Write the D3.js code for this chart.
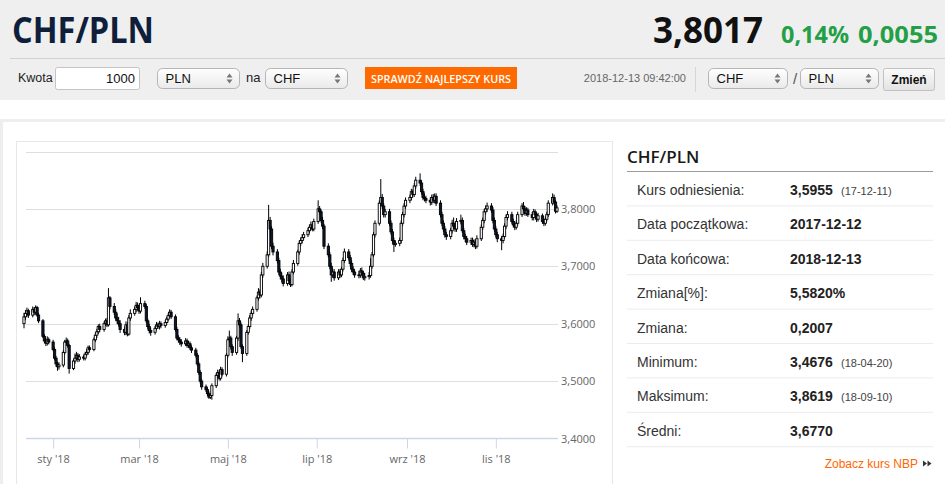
<!DOCTYPE html>
<html>
<head>
<meta charset="utf-8">
<script src="https://cdn.jsdelivr.net/npm/d3@7"></script>
<style>
  body { margin: 0; background: #fff; }
  svg text { font-family: "Liberation Sans", Arial, sans-serif; }
</style>
</head>
<body>
<div id="page"></div>
<script>
// daily OHLC, CHF/PLN, 2017-12-12 .. 2018-12-13 (one row per week)
var opens = [
  3.6000, 3.6120, 3.6180, 3.6225,
  3.6150, 3.6250, 3.6200, 3.6280, 3.6150,
  3.6050, 3.5780, 3.5700, 3.5660, 3.5720,
  3.5680, 3.5550, 3.5400, 3.5300, 3.5250,
  3.5280, 3.5500, 3.5680, 3.5700, 3.5620,
  3.5220, 3.5350, 3.5400, 3.5450, 3.5380,
  3.5420, 3.5400, 3.5470, 3.5500, 3.5580,
  3.5550, 3.5720, 3.5800, 3.5860, 3.5950,
  3.5900, 3.6000, 3.6050, 3.5980, 3.6450,
  3.6300, 3.6200, 3.6100, 3.6050, 3.6000,
  3.5900, 3.5850, 3.5980, 3.5820, 3.6100,
  3.6180, 3.6250, 3.6320, 3.6280, 3.6220,
  3.6350, 3.6300, 3.6050, 3.5950, 3.5880,
  3.5850, 3.5920, 3.5980, 3.5950, 3.6000,
  3.5970, 3.6020, 3.6080, 3.6140, 3.6200,
  3.6120, 3.5900, 3.5750, 3.5720, 3.5680,
  3.5650, 3.5700, 3.5620, 3.5650, 3.5580,
  3.5540, 3.5450, 3.5300, 3.5150, 3.5000,
  3.4900, 3.4850, 3.4780, 3.4720, 3.4750,
  3.4920, 3.5100, 3.5150, 3.5050, 3.5200,
  3.5120, 3.5450, 3.5720, 3.5750, 3.5600,
  3.5500, 3.5750, 3.6050, 3.5980, 3.5600,
  3.5480, 3.5850, 3.5950, 3.6100, 3.6180,
  3.6250, 3.6450, 3.6550, 3.6500, 3.6850,
  3.7000, 3.7200, 3.7800, 3.7650, 3.7350,
  3.7250, 3.7100, 3.6900, 3.6830, 3.6780,
  3.6700, 3.6850, 3.6750, 3.6680, 3.6900,
  3.7050, 3.7250, 3.7400, 3.7450, 3.7500,
  3.7550, 3.7620, 3.7680, 3.7720, 3.7650,
  3.7780, 3.8000, 3.7950, 3.7800, 3.7700,
  3.7350, 3.7200, 3.7000, 3.6850, 3.6900,
  3.6800, 3.6900, 3.6850, 3.6950, 3.7100,
  3.7250, 3.7150, 3.7050, 3.6950, 3.6900,
  3.6850, 3.6850, 3.6920, 3.6880, 3.6800,
  3.6820, 3.6840, 3.7000, 3.7200, 3.7550,
  3.7750, 3.8100, 3.8200, 3.8050, 3.7900,
  3.7950, 3.7750, 3.7600, 3.7450, 3.7380,
  3.7400, 3.7450, 3.7750, 3.7900, 3.8050,
  3.8150, 3.8200, 3.8300, 3.8250, 3.8400,
  3.8500, 3.8450, 3.8300, 3.8200, 3.8180,
  3.8150, 3.8120, 3.8200, 3.8150, 3.8220,
  3.8100, 3.7900, 3.7750, 3.7650, 3.7550,
  3.7520, 3.7620, 3.7750, 3.7700, 3.7650,
  3.7780, 3.7800, 3.7620, 3.7520, 3.7480,
  3.7420, 3.7450, 3.7380, 3.7420, 3.7350,
  3.7480, 3.7680, 3.7800, 3.7950, 3.8000,
  3.8050, 3.7980, 3.7800, 3.7650, 3.7550,
  3.7480, 3.7450, 3.7520, 3.7700, 3.7850,
  3.7900, 3.7780, 3.7720, 3.7680, 3.7750,
  3.7900, 3.8050, 3.8000, 3.7920, 3.7980,
  3.7900, 3.7850, 3.7950, 3.7900, 3.7820,
  3.7880, 3.7780, 3.7750, 3.7820, 3.7900,
  3.8100, 3.8200, 3.8120, 3.7960
];
var highs = [
  3.6190, 3.6240, 3.6280, 3.6260,
  3.6300, 3.6290, 3.6320, 3.6310, 3.6190,
  3.6080, 3.5820, 3.5750, 3.5780, 3.5760,
  3.5720, 3.5590, 3.5440, 3.5340, 3.5330,
  3.5540, 3.5720, 3.5760, 3.5740, 3.5650,
  3.5390, 3.5480, 3.5510, 3.5490, 3.5470,
  3.5460, 3.5510, 3.5560, 3.5620, 3.5620,
  3.5760, 3.5850, 3.5910, 3.5990, 3.6000,
  3.6040, 3.6090, 3.6100, 3.6620, 3.6480,
  3.6360, 3.6250, 3.6180, 3.6120, 3.6060,
  3.5950, 3.6040, 3.6030, 3.6150, 3.6250,
  3.6300, 3.6380, 3.6370, 3.6330, 3.6460,
  3.6400, 3.6340, 3.6090, 3.6000, 3.5930,
  3.5960, 3.6030, 3.6020, 3.6050, 3.6040,
  3.6060, 3.6120, 3.6180, 3.6250, 3.6240,
  3.6160, 3.5940, 3.5800, 3.5770, 3.5730,
  3.5750, 3.5740, 3.5700, 3.5690, 3.5620,
  3.5580, 3.5490, 3.5340, 3.5190, 3.5040,
  3.4940, 3.4890, 3.4820, 3.4790, 3.4960,
  3.5140, 3.5200, 3.5190, 3.5250, 3.5240,
  3.5490, 3.5780, 3.5880, 3.5790, 3.5640,
  3.5790, 3.6180, 3.6100, 3.6020, 3.5640,
  3.5890, 3.5990, 3.6150, 3.6230, 3.6300,
  3.6490, 3.6620, 3.6600, 3.6900, 3.7060,
  3.7260, 3.8070, 3.7860, 3.7700, 3.7410,
  3.7300, 3.7150, 3.6960, 3.6890, 3.6840,
  3.6900, 3.6910, 3.6790, 3.6950, 3.7110,
  3.7290, 3.7450, 3.7500, 3.7560, 3.7600,
  3.7670, 3.7730, 3.7780, 3.7770, 3.7830,
  3.8150, 3.8050, 3.7990, 3.7860, 3.7740,
  3.7400, 3.7250, 3.7060, 3.6960, 3.6950,
  3.6950, 3.6950, 3.6990, 3.7150, 3.7310,
  3.7300, 3.7200, 3.7100, 3.7000, 3.6950,
  3.6920, 3.6970, 3.6980, 3.6920, 3.6880,
  3.6900, 3.7140, 3.7250, 3.7600, 3.7800,
  3.8150, 3.8520, 3.8260, 3.8100, 3.8000,
  3.8000, 3.7800, 3.7650, 3.7500, 3.7450,
  3.7500, 3.7800, 3.7950, 3.8100, 3.8200,
  3.8250, 3.8350, 3.8340, 3.8450, 3.8560,
  3.8619, 3.8500, 3.8350, 3.8270, 3.8230,
  3.8200, 3.8250, 3.8260, 3.8270, 3.8270,
  3.8150, 3.7950, 3.7800, 3.7700, 3.7600,
  3.7670, 3.7810, 3.7850, 3.7760, 3.7840,
  3.7900, 3.7850, 3.7670, 3.7570, 3.7530,
  3.7500, 3.7500, 3.7470, 3.7470, 3.7540,
  3.7730, 3.7850, 3.8000, 3.8060, 3.8110,
  3.8100, 3.8030, 3.7850, 3.7700, 3.7600,
  3.7530, 3.7570, 3.7750, 3.7900, 3.7960,
  3.7950, 3.7830, 3.7770, 3.7800, 3.7950,
  3.8100, 3.8120, 3.8050, 3.8030, 3.8020,
  3.7950, 3.8000, 3.7990, 3.7940, 3.7930,
  3.7920, 3.7830, 3.7870, 3.7950, 3.8150,
  3.8270, 3.8250, 3.8160, 3.8060
];
var lows = [
  3.5920, 3.6060, 3.6120, 3.6100,
  3.6110, 3.6150, 3.6160, 3.6120, 3.6010,
  3.5750, 3.5660, 3.5610, 3.5620, 3.5640,
  3.5520, 3.5360, 3.5250, 3.5180, 3.5200,
  3.5240, 3.5460, 3.5630, 3.5580, 3.5130,
  3.5190, 3.5300, 3.5360, 3.5330, 3.5340,
  3.5360, 3.5360, 3.5430, 3.5460, 3.5510,
  3.5520, 3.5680, 3.5750, 3.5820, 3.5850,
  3.5860, 3.5960, 3.5940, 3.5950, 3.6250,
  3.6150, 3.6050, 3.5990, 3.5950, 3.5840,
  3.5800, 3.5800, 3.5780, 3.5790, 3.6050,
  3.6140, 3.6200, 3.6230, 3.6170, 3.6180,
  3.6260, 3.6010, 3.5900, 3.5830, 3.5790,
  3.5810, 3.5880, 3.5910, 3.5900, 3.5920,
  3.5930, 3.5980, 3.6040, 3.6100, 3.6080,
  3.5860, 3.5710, 3.5670, 3.5630, 3.5600,
  3.5610, 3.5580, 3.5580, 3.5540, 3.5490,
  3.5410, 3.5260, 3.5110, 3.4960, 3.4850,
  3.4810, 3.4740, 3.4690, 3.4690, 3.4676,
  3.4880, 3.5050, 3.5010, 3.5010, 3.5080,
  3.5080, 3.5410, 3.5670, 3.5550, 3.5440,
  3.5460, 3.5700, 3.5930, 3.5560, 3.5330,
  3.5440, 3.5810, 3.5910, 3.6050, 3.6140,
  3.6210, 3.6400, 3.6440, 3.6460, 3.6800,
  3.6960, 3.7160, 3.7580, 3.7300, 3.7190,
  3.7050, 3.6850, 3.6770, 3.6720, 3.6650,
  3.6660, 3.6700, 3.6640, 3.6650, 3.6860,
  3.7010, 3.7200, 3.7350, 3.7400, 3.7450,
  3.7510, 3.7570, 3.7630, 3.7610, 3.7610,
  3.7740, 3.7900, 3.7760, 3.7650, 3.7300,
  3.7150, 3.6950, 3.6730, 3.6800, 3.6750,
  3.6760, 3.6800, 3.6810, 3.6910, 3.7060,
  3.7100, 3.7000, 3.6900, 3.6850, 3.6800,
  3.6790, 3.6800, 3.6830, 3.6760, 3.6750,
  3.6770, 3.6800, 3.6960, 3.7160, 3.7500,
  3.7710, 3.8050, 3.8000, 3.7850, 3.7850,
  3.7700, 3.7550, 3.7400, 3.7250, 3.7340,
  3.7350, 3.7400, 3.7700, 3.7850, 3.8000,
  3.8100, 3.8150, 3.8200, 3.8210, 3.8350,
  3.8400, 3.8250, 3.8150, 3.8130, 3.8100,
  3.8060, 3.8070, 3.8100, 3.8100, 3.8050,
  3.7850, 3.7700, 3.7600, 3.7500, 3.7460,
  3.7470, 3.7570, 3.7650, 3.7600, 3.7600,
  3.7730, 3.7580, 3.7470, 3.7420, 3.7370,
  3.7370, 3.7340, 3.7330, 3.7300, 3.7310,
  3.7440, 3.7630, 3.7750, 3.7900, 3.7950,
  3.7930, 3.7750, 3.7600, 3.7500, 3.7420,
  3.7280, 3.7400, 3.7480, 3.7650, 3.7800,
  3.7740, 3.7680, 3.7630, 3.7640, 3.7710,
  3.7860, 3.7960, 3.7880, 3.7880, 3.7860,
  3.7800, 3.7800, 3.7860, 3.7770, 3.7780,
  3.7740, 3.7700, 3.7710, 3.7780, 3.7860,
  3.8060, 3.8080, 3.7920, 3.7930
];
var closes = [
  3.6120, 3.6180, 3.6225, 3.6150,
  3.6250, 3.6200, 3.6280, 3.6150, 3.6050,
  3.5780, 3.5700, 3.5660, 3.5720, 3.5680,
  3.5550, 3.5400, 3.5300, 3.5250, 3.5280,
  3.5500, 3.5680, 3.5700, 3.5620, 3.5220,
  3.5350, 3.5400, 3.5450, 3.5380, 3.5420,
  3.5400, 3.5470, 3.5500, 3.5580, 3.5550,
  3.5720, 3.5800, 3.5860, 3.5950, 3.5900,
  3.6000, 3.6050, 3.5980, 3.6450, 3.6300,
  3.6200, 3.6100, 3.6050, 3.6000, 3.5900,
  3.5850, 3.5980, 3.5820, 3.6100, 3.6180,
  3.6250, 3.6320, 3.6280, 3.6220, 3.6350,
  3.6300, 3.6050, 3.5950, 3.5880, 3.5850,
  3.5920, 3.5980, 3.5950, 3.6000, 3.5970,
  3.6020, 3.6080, 3.6140, 3.6200, 3.6120,
  3.5900, 3.5750, 3.5720, 3.5680, 3.5650,
  3.5700, 3.5620, 3.5650, 3.5580, 3.5540,
  3.5450, 3.5300, 3.5150, 3.5000, 3.4900,
  3.4850, 3.4780, 3.4720, 3.4750, 3.4920,
  3.5100, 3.5150, 3.5050, 3.5200, 3.5120,
  3.5450, 3.5720, 3.5750, 3.5600, 3.5500,
  3.5750, 3.6050, 3.5980, 3.5600, 3.5480,
  3.5850, 3.5950, 3.6100, 3.6180, 3.6250,
  3.6450, 3.6550, 3.6500, 3.6850, 3.7000,
  3.7200, 3.7800, 3.7650, 3.7350, 3.7250,
  3.7100, 3.6900, 3.6830, 3.6780, 3.6700,
  3.6850, 3.6750, 3.6680, 3.6900, 3.7050,
  3.7250, 3.7400, 3.7450, 3.7500, 3.7550,
  3.7620, 3.7680, 3.7720, 3.7650, 3.7780,
  3.8000, 3.7950, 3.7800, 3.7700, 3.7350,
  3.7200, 3.7000, 3.6850, 3.6900, 3.6800,
  3.6900, 3.6850, 3.6950, 3.7100, 3.7250,
  3.7150, 3.7050, 3.6950, 3.6900, 3.6850,
  3.6850, 3.6920, 3.6880, 3.6800, 3.6820,
  3.6840, 3.7000, 3.7200, 3.7550, 3.7750,
  3.8100, 3.8200, 3.8050, 3.7900, 3.7950,
  3.7750, 3.7600, 3.7450, 3.7380, 3.7400,
  3.7450, 3.7750, 3.7900, 3.8050, 3.8150,
  3.8200, 3.8300, 3.8250, 3.8400, 3.8500,
  3.8450, 3.8300, 3.8200, 3.8180, 3.8150,
  3.8120, 3.8200, 3.8150, 3.8220, 3.8100,
  3.7900, 3.7750, 3.7650, 3.7550, 3.7520,
  3.7620, 3.7750, 3.7700, 3.7650, 3.7780,
  3.7800, 3.7620, 3.7520, 3.7480, 3.7420,
  3.7450, 3.7380, 3.7420, 3.7350, 3.7480,
  3.7680, 3.7800, 3.7950, 3.8000, 3.8050,
  3.7980, 3.7800, 3.7650, 3.7550, 3.7480,
  3.7450, 3.7520, 3.7700, 3.7850, 3.7900,
  3.7780, 3.7720, 3.7680, 3.7750, 3.7900,
  3.8050, 3.8000, 3.7920, 3.7980, 3.7900,
  3.7850, 3.7950, 3.7900, 3.7820, 3.7880,
  3.7780, 3.7750, 3.7820, 3.7900, 3.8100,
  3.8200, 3.8120, 3.7960, 3.8017
];
var firstDay = "2017-12-12", lastDay = "2018-12-13";
var yTicks = [3.4, 3.5, 3.6, 3.7, 3.8, 3.9];
var monthNames = ["sty", "lut", "mar", "kwi", "maj", "cze", "lip", "sie", "wrz", "paź", "lis", "gru"];

var statLabels = ["Kurs odniesienia:", "Data początkowa:", "Data końcowa:", "Zmiana[%]:",
                  "Zmiana:", "Minimum:", "Maksimum:", "Średni:"];
var statValues = ["3,5955", "2017-12-12", "2018-12-13", "5,5820%", "0,2007", "3,4676", "3,8619", "3,6770"];
var statDates  = ["(17-12-11)", "", "", "", "", "(18-04-20)", "(18-09-10)", ""];

// trading days (Mon-Fri)
var parse = d3.utcParse("%Y-%m-%d");
var t0 = parse(firstDay), t1 = parse(lastDay);
var days = d3.utcDay.range(t0, d3.utcDay.offset(t1, 1))
    .filter(function(d) { var w = d.getUTCDay(); return w > 0 && w < 6; });
var candles = days.map(function(d, i) {
    return {date: d, o: opens[i], h: highs[i], l: lows[i], c: closes[i]};
});

var svg = d3.select("#page").append("svg")
    .attr("width", 945)
    .attr("height", 484);

// ---------- header ----------
var defs = svg.append("defs");
var grad = defs.append("linearGradient").attr("id", "selGrad").attr("x1", 0).attr("y1", 0).attr("x2", 0).attr("y2", 1);
grad.append("stop").attr("offset", "0%").attr("stop-color", "#ffffff");
grad.append("stop").attr("offset", "100%").attr("stop-color", "#e9e9e9");

svg.append("rect").attr("x", 0).attr("y", 0).attr("width", 945).attr("height", 100).attr("fill", "#efefef");

svg.append("text").attr("x", 12).attr("y", 43)
    .text("CHF/PLN")
    .style("font-family", "'Open Sans'")
    .attr("font-weight", 700)
    .attr("font-size", "35px")
    .attr("textLength", 142)
    .attr("lengthAdjust", "spacingAndGlyphs")
    .attr("fill", "#0f1f3b");

svg.append("text").attr("x", 653).attr("y", 43)
    .text("3,8017")
    .style("font-family", "'Open Sans'")
    .attr("font-weight", 700)
    .attr("font-size", "35px")
    .attr("textLength", 110)
    .attr("lengthAdjust", "spacingAndGlyphs")
    .attr("fill", "#111");

svg.append("text").attr("x", 781).attr("y", 43)
    .text("0,14%")
    .style("font-family", "'Open Sans'")
    .attr("font-weight", 700)
    .attr("font-size", "23px")
    .attr("textLength", 68)
    .attr("lengthAdjust", "spacingAndGlyphs")
    .attr("fill", "#23a046");

svg.append("text").attr("x", 858).attr("y", 43)
    .text("0,0055")
    .style("font-family", "'Open Sans'")
    .attr("font-weight", 700)
    .attr("font-size", "23px")
    .attr("textLength", 80)
    .attr("lengthAdjust", "spacingAndGlyphs")
    .attr("fill", "#23a046");

svg.append("line").attr("x1", 10).attr("x2", 945).attr("y1", 58.5).attr("y2", 58.5)
    .attr("stroke", "#d2d2d2");

// form row
svg.append("text").attr("x", 18).attr("y", 82).text("Kwota")
    .attr("font-size", "12.5px").attr("fill", "#222");
svg.append("rect").attr("x", 55.5).attr("y", 67.5).attr("width", 84).attr("height", 22).attr("rx", 2)
    .attr("fill", "#fff").attr("stroke", "#c4c4c4");
svg.append("text").attr("x", 135).attr("y", 83).text("1000")
    .attr("text-anchor", "end").attr("font-size", "13px").attr("fill", "#111");

function selectBox(x, w, label) {
    var g = svg.append("g").attr("transform", "translate(" + x + ",68.5)");
    g.append("rect").attr("width", w).attr("height", 20).attr("rx", 5)
        .attr("fill", "url(#selGrad)").attr("stroke", "#b5b5b5");
    g.append("text").attr("x", 8).attr("y", 14.5).text(label)
        .attr("font-size", "13px").attr("fill", "#111");
    g.append("path").attr("d", "M" + (w - 13) + ",9 l3,-4 l3,4 z M" + (w - 13) + ",11 l3,4 l3,-4 z")
        .attr("fill", "#777");
}
selectBox(157.5, 82, "PLN");
svg.append("text").attr("x", 246).attr("y", 82).text("na").attr("font-size", "13px").attr("fill", "#222");
selectBox(265.5, 82, "CHF");

svg.append("rect").attr("x", 365).attr("y", 67).attr("width", 152).attr("height", 22).attr("fill", "#ff6a00");
svg.append("text").attr("x", 441).attr("y", 82.5).text("SPRAWDŹ NAJLEPSZY KURS")
    .style("font-family", "'Open Sans'")
    .attr("text-anchor", "middle")
    .attr("font-weight", 600)
    .attr("font-size", "10.5px")
    .attr("textLength", 140)
    .attr("lengthAdjust", "spacingAndGlyphs")
    .attr("fill", "#fff");

svg.append("text").attr("x", 686).attr("y", 82).text("2018-12-13 09:42:00")
    .attr("text-anchor", "end").attr("font-size", "11px").attr("fill", "#666");
svg.append("line").attr("x1", 695.5).attr("x2", 695.5).attr("y1", 67).attr("y2", 92).attr("stroke", "#d6d6d6");
selectBox(708.5, 79, "CHF");
svg.append("text").attr("x", 793).attr("y", 84).text("/").attr("font-size", "15px").attr("fill", "#555");
selectBox(800.5, 78, "PLN");
var btnGrad = defs.append("linearGradient").attr("id", "btnGrad").attr("x1", 0).attr("y1", 0).attr("x2", 0).attr("y2", 1);
btnGrad.append("stop").attr("offset", "0%").attr("stop-color", "#fbfbfb");
btnGrad.append("stop").attr("offset", "100%").attr("stop-color", "#e2e2e2");
svg.append("rect").attr("x", 883.5).attr("y", 68.5).attr("width", 51).attr("height", 22).attr("rx", 2)
    .attr("fill", "url(#btnGrad)").attr("stroke", "#c2c2c2");
svg.append("text").attr("x", 909).attr("y", 84).text("Zmień")
    .attr("text-anchor", "middle").attr("font-weight", 700).attr("font-size", "12px").attr("fill", "#111");

// ---------- panel ----------
svg.append("rect").attr("x", 1.5).attr("y", 120.5).attr("width", 960).attr("height", 400)
    .attr("fill", "#fff").attr("stroke", "#eeeeee").attr("stroke-width", 3);
svg.append("rect").attr("x", 16.5).attr("y", 141.5).attr("width", 596).attr("height", 400)
    .attr("fill", "#fff").attr("stroke", "#e8e8e8");

// ---------- chart ----------
var x = d3.scaleUtc().domain([t0, t1]).range([24, 557]);
var y = d3.scaleLinear().domain([3.4, 3.9]).range([438.5, 151.5]);
var gridL = 26, gridR = 558;
var fmt = d3.format(".4f");

svg.append("g").selectAll("line")
    .data(yTicks.filter(function(d) { return d > 3.4; }))
    .enter().append("line")
    .attr("x1", gridL).attr("x2", gridR)
    .attr("y1", function(d) { return Math.round(y(d)) + 0.5; })
    .attr("y2", function(d) { return Math.round(y(d)) + 0.5; })
    .attr("stroke", "#dedede");

svg.append("g").selectAll("text")
    .data(yTicks.filter(function(d) { return d < 3.85; }))
    .enter().append("text")
    .attr("x", 561)
    .attr("y", function(d) { return y(d) + 4; })
    .text(function(d) { return fmt(d).replace(".", ","); })
    .style("font-family", "'Open Sans'")
    .attr("font-size", "11px")
    .attr("fill", "#666");

var xAxis = d3.axisBottom(x)
    .ticks(d3.utcMonth.every(2))
    .tickSize(10)
    .tickSizeOuter(0)
    .tickPadding(7)
    .tickFormat(function(d) { return monthNames[d.getUTCMonth()] + " '" + d3.utcFormat("%y")(d); });

var gx = svg.append("g").attr("transform", "translate(0,438.5)").call(xAxis);
gx.select(".domain").remove();
gx.selectAll(".tick line").attr("stroke", "#ccd6eb");
gx.selectAll(".tick text")
    .style("font-family", "'Open Sans'")
    .attr("font-size", "11px")
    .attr("fill", "#666");
svg.append("line").attr("x1", gridL).attr("x2", gridR).attr("y1", 438.5).attr("y2", 438.5)
    .attr("stroke", "#ccd6eb").attr("stroke-width", 1.5);

var bw = 2.2;
var cg = svg.append("g");
cg.selectAll("line.wick")
    .data(candles)
    .enter().append("line")
    .attr("class", "wick")
    .attr("x1", function(d) { return x(d.date); })
    .attr("x2", function(d) { return x(d.date); })
    .attr("y1", function(d) { return y(d.h); })
    .attr("y2", function(d) { return y(d.l); })
    .attr("stroke", "#000")
    .attr("stroke-width", 1);

cg.selectAll("rect.body")
    .data(candles)
    .enter().append("rect")
    .attr("class", "body")
    .attr("x", function(d) { return x(d.date) - bw / 2; })
    .attr("width", bw)
    .attr("y", function(d) { return y(Math.max(d.o, d.c)); })
    .attr("height", function(d) { return Math.max(0.8, Math.abs(y(d.o) - y(d.c))); })
    .attr("fill", function(d) { return d.c >= d.o ? "#ffffff" : "#0c1a31"; })
    .attr("stroke", "#000")
    .attr("stroke-width", 0.9);

// ---------- stats table ----------
svg.append("text").attr("x", 627).attr("y", 163).text("CHF/PLN")
    .style("font-family", "'Open Sans'")
    .attr("font-weight", 600)
    .attr("font-size", "17px")
    .attr("fill", "#1a1a1a");
svg.append("line").attr("x1", 627).attr("x2", 933).attr("y1", 171.5).attr("y2", 171.5)
    .attr("stroke", "#9a9a9a");

var rowH = 34.4;
var rows = svg.append("g").selectAll("g")
    .data(statLabels)
    .enter().append("g")
    .attr("transform", function(d, i) { return "translate(0," + (171.5 + i * rowH) + ")"; });

rows.append("line").attr("x1", 627).attr("x2", 933).attr("y1", rowH).attr("y2", rowH)
    .attr("stroke", "#ececec");
rows.append("text").attr("x", 637).attr("y", 23.5)
    .text(function(d) { return d; })
    .attr("font-size", "14px").attr("fill", "#333");
rows.append("text").attr("x", 790).attr("y", 23.5)
    .text(function(d, i) { return statValues[i]; })
    .attr("font-weight", 700).attr("font-size", "14px").attr("fill", "#222");
rows.append("text").attr("x", 841).attr("y", 23)
    .text(function(d, i) { return statDates[i]; })
    .attr("font-size", "11px").attr("fill", "#444");

svg.append("text").attr("x", 918).attr("y", 468).text("Zobacz kurs NBP")
    .attr("text-anchor", "end").attr("font-size", "12px").attr("fill", "#ff6600");
svg.append("path").attr("d", "M923,460.5 l4,3 l-4,3 z M927.5,460.5 l4,3 l-4,3 z").attr("fill", "#333");
</script>
</body>
</html>
